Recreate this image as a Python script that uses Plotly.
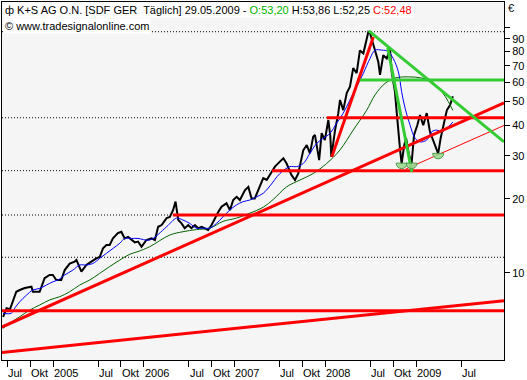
import plotly.graph_objects as go

# ---------------- data ----------------
price_dates = [
    "2004-06-14", "2004-06-28", "2004-07-12", "2004-07-23", "2004-08-06", "2004-08-20",
    "2004-09-09", "2004-10-06", "2004-10-12", "2004-11-08", "2004-11-28", "2004-12-18",
    "2004-12-31", "2005-01-14", "2005-02-03", "2005-02-17", "2005-03-09", "2005-03-29",
    "2005-04-05", "2005-04-25", "2005-05-15", "2005-06-04", "2005-06-24", "2005-07-08",
    "2005-07-21", "2005-08-04", "2005-08-17", "2005-08-30", "2005-09-19", "2005-10-03",
    "2005-10-16", "2005-10-30", "2005-11-12", "2005-11-26", "2005-12-09", "2005-12-23",
    "2006-01-12", "2006-02-01", "2006-02-15", "2006-02-28", "2006-03-14", "2006-04-03",
    "2006-04-16", "2006-04-29", "2006-05-09", "2006-05-20", "2006-06-02", "2006-06-15",
    "2006-06-29", "2006-07-12", "2006-07-26", "2006-08-08", "2006-08-22", "2006-09-04",
    "2006-09-17", "2006-10-01", "2006-10-14", "2006-10-28", "2006-11-10", "2006-11-30",
    "2006-12-14", "2006-12-27", "2007-01-10", "2007-01-23", "2007-02-12", "2007-02-26",
    "2007-03-11", "2007-03-24", "2007-04-14", "2007-04-27", "2007-05-11", "2007-05-24",
    "2007-06-13", "2007-07-03", "2007-07-17", "2007-07-30", "2007-08-19", "2007-09-02",
    "2007-09-15", "2007-10-05", "2007-10-19", "2007-11-01", "2007-11-14", "2007-11-21",
    "2007-12-04", "2007-12-08", "2007-12-18", "2007-12-31", "2008-01-14", "2008-01-22",
    "2008-01-26", "2008-02-10", "2008-02-23", "2008-03-01", "2008-03-14", "2008-03-28",
    "2008-04-10", "2008-04-23", "2008-05-07", "2008-05-20", "2008-06-03", "2008-06-17",
    "2008-06-23", "2008-06-30", "2008-07-13", "2008-07-20", "2008-08-02", "2008-08-09",
    "2008-08-22", "2008-09-05", "2008-09-18", "2008-09-25", "2008-10-08", "2008-10-15",
    "2008-10-22", "2008-10-29", "2008-11-04", "2008-11-14", "2008-11-22", "2008-12-03",
    "2008-12-14", "2008-12-24", "2009-01-06", "2009-01-17", "2009-01-30", "2009-02-13",
    "2009-02-26", "2009-03-12", "2009-03-20", "2009-03-31", "2009-04-10", "2009-04-21",
    "2009-05-05", "2009-05-18", "2009-05-29",
]
price_close = [
    6.6, 7.16, 7.1, 7.61, 8.36, 8.5,
    8.66, 8.77, 8.36, 8.36, 9.49, 9.79,
    9.79, 9.34, 9.34, 10.25, 10.9, 11.1,
    11.27, 10.1, 10.75, 11.1, 11.45, 11.6,
    12.58, 12.97, 12.97, 13.8, 14.5, 14.7,
    13.8, 14.0, 13.6, 13.3, 13.4, 12.77,
    13.6, 13.8, 13.6, 15.4, 15.65, 16.7,
    16.9, 18.0, 19.5, 16.4, 15.9, 15.2,
    15.65, 15.2, 15.65, 15.2, 15.4, 15.2,
    14.94, 15.65, 16.7, 17.7, 18.6, 19.2,
    18.0, 19.8, 20.4, 19.8, 21.7, 22.4,
    20.1, 20.1, 22.6, 24.3, 23.9, 25.0,
    27.1, 28.4, 29.3, 27.9, 25.0, 23.9,
    25.4, 31.6, 33.2, 30.7, 35.9, 36.5,
    31.2, 28.8, 37.1, 34.8, 42.0, 36.0,
    29.7, 38.2, 44.8, 50.7, 46.1, 54.1,
    57.4, 68.4, 65.2, 80.8, 78.6, 89.2,
    96.0, 94.9, 86.0, 82.0, 72.6, 64.2,
    77.2, 74.9, 82.0, 66.0, 54.8, 45.3,
    36.5, 31.5, 27.9, 33.0, 35.4, 30.5,
    27.9, 36.5, 40.0, 44.0, 40.0, 44.8,
    37.6, 34.2, 33.0, 30.6, 35.4, 40.0,
    46.1, 48.3, 52.48,
]

blue_dates = [
    "2004-06-14", "2004-07-17", "2004-07-30", "2004-08-20", "2004-09-16", "2004-10-12",
    "2004-11-08", "2004-12-05", "2005-01-01", "2005-01-21", "2005-02-17", "2005-03-22",
    "2005-04-18", "2005-05-15", "2005-06-10", "2005-07-08", "2005-08-04", "2005-08-31",
    "2005-09-27", "2005-10-17", "2005-11-13", "2005-12-09", "2006-01-25", "2006-04-03",
    "2006-05-13", "2006-06-08", "2006-07-05", "2006-08-01", "2006-08-28", "2006-09-24",
    "2006-10-21", "2006-11-16", "2006-12-13", "2007-01-09", "2007-02-05", "2007-03-04",
    "2007-03-31", "2007-04-27", "2007-05-24", "2007-07-03", "2007-08-12", "2007-09-08",
    "2007-10-05", "2007-11-01", "2007-11-28", "2007-12-25", "2008-01-21", "2008-02-16",
    "2008-03-14", "2008-04-10", "2008-05-07", "2008-06-03", "2008-06-30", "2008-07-20",
    "2008-08-16", "2008-09-11", "2008-10-01", "2008-10-22", "2008-11-04", "2008-11-18",
    "2008-12-08", "2008-12-28", "2009-01-17", "2009-02-13", "2009-03-05", "2009-03-25",
    "2009-04-15", "2009-05-05", "2009-05-29",
]
blue_values = [
    6.83, 6.83, 7.15, 7.61, 8.1, 8.5,
    8.63, 8.9, 9.19, 9.34, 9.79, 10.25,
    10.75, 10.75, 10.9, 11.45, 12.0, 12.58,
    13.2, 13.8, 13.8, 13.8, 13.6, 15.4,
    16.7, 16.4, 15.9, 15.2, 15.2, 15.2,
    15.9, 16.9, 18.0, 18.9, 19.5, 19.8,
    20.4, 21.1, 22.6, 25.4, 27.1, 27.1,
    27.9, 30.7, 33.7, 35.4, 37.1, 40.7,
    44.8, 50.7, 57.4, 65.2, 75.0, 81.0,
    81.0, 80.0, 74.9, 66.0, 54.8, 46.9,
    40.0, 35.4, 34.2, 34.8, 37.6, 38.2,
    37.6, 38.8, 41.2,
]

green_dates = [
    "2004-06-14", "2004-07-10", "2004-08-20", "2004-09-29", "2004-11-08", "2004-12-18",
    "2005-01-28", "2005-03-09", "2005-04-18", "2005-05-29", "2005-07-08", "2005-08-17",
    "2005-09-27", "2005-11-06", "2005-12-09", "2006-01-25", "2006-04-16", "2006-06-08",
    "2006-08-01", "2006-09-24", "2006-11-16", "2007-01-09", "2007-03-04", "2007-04-27",
    "2007-06-06", "2007-07-30", "2007-09-22", "2007-11-14", "2008-01-07", "2008-03-01",
    "2008-04-23", "2008-06-16", "2008-07-20", "2008-08-29", "2008-10-08", "2008-12-01",
    "2009-01-24", "2009-03-05", "2009-04-15", "2009-05-11", "2009-05-29",
]
green_values = [
    5.93, 6.22, 6.61, 7.04, 7.38, 7.74,
    7.98, 8.36, 8.9, 9.34, 9.94, 10.6,
    11.27, 11.9, 12.2, 12.77, 14.25, 14.7,
    15.0, 15.2, 16.2, 16.7, 17.5, 18.5,
    19.9, 22.4, 23.9, 25.4, 27.9, 31.7,
    38.2, 46.0, 53.2, 59.2, 62.3, 63.0,
    62.3, 60.3, 54.8, 49.9, 46.0,
]

# horizontal levels: value, start date of the solid part
red_levels = [42.9, 26.1, 17.2]
red_level_starts = ["2008-01-08", "2007-06-01", "2006-04-28"]
red_full_level = 7.0
green_level = 61.2
green_level_start = "2008-05-08"
dotted_full_levels = [96.3, 11.56]

# trend lines: (date0, value0, date1, value1)
red_thick_lines = [
    ("2004-06-09", 6.0, "2009-12-21", 49.3),
    ("2004-06-09", 4.72, "2009-12-21", 7.69),
    ("2008-01-28", 29.7, "2008-07-13", 91.6),
]
red_thin_lines = [("2008-11-21", 26.5, "2009-12-21", 39.9)]
green_lines = [
    ("2008-06-25", 97.0, "2009-12-21", 34.2),
    ("2008-09-09", 82.6, "2008-12-15", 25.8),
]

# marked lows (green bowls)
low_dates = ["2008-11-04", "2008-12-14", "2009-03-31"]
low_values = [28.0, 28.0, 30.7]

# axis ticks
x_tick_dates = ["2004-07-01", "2004-10-01", "2005-01-01", "2005-07-01", "2005-10-01",
                "2006-01-01", "2006-07-01", "2006-10-01", "2007-01-01", "2007-07-01",
                "2007-10-01", "2008-01-01", "2008-07-01", "2008-10-01", "2009-01-01",
                "2009-07-01"]
x_tick_labels = ["Jul", "Okt", "2005", "Jul", "Okt", "2006", "Jul", "Okt", "2007",
                 "Jul", "Okt", "2008", "Jul", "Okt", "2009", "Jul"]
y_tick_vals = [10, 20, 30, 40, 50, 60, 70, 80, 90, 100]
y_tick_text = ["10", "20", "30", "40", "50", "60", "70", "80", "90", ""]

X_START = "2004-06-09 12:00"
X_END = "2009-12-21"

FONT = "Liberation Sans, Arial, sans-serif"
RED = "#ff0000"
GREEN = "#33cc33"

fig = go.Figure()

# dotted reference lines
for v in dotted_full_levels:
    fig.add_trace(go.Scatter(x=[X_START, X_END], y=[v, v], mode="lines",
                             line=dict(color="black", width=1, dash="1px,2px"),
                             hoverinfo="skip"))
for v, s in zip(red_levels, red_level_starts):
    fig.add_trace(go.Scatter(x=[X_START, s], y=[v, v], mode="lines",
                             line=dict(color="black", width=1, dash="1px,2px"),
                             hoverinfo="skip"))

# price
fig.add_trace(go.Scatter(x=price_dates, y=price_close, mode="lines",
                         line=dict(color="black", width=2)))
# moving averages
fig.add_trace(go.Scatter(x=green_dates, y=green_values, mode="lines",
                         line=dict(color="#006400", width=1, shape="spline")))
fig.add_trace(go.Scatter(x=blue_dates, y=blue_values, mode="lines",
                         line=dict(color="#0000ff", width=1, shape="spline")))

# horizontal levels
for v, s in zip(red_levels, red_level_starts):
    fig.add_trace(go.Scatter(x=[s, X_END], y=[v, v], mode="lines",
                             line=dict(color=RED, width=3)))
fig.add_trace(go.Scatter(x=[X_START, X_END], y=[red_full_level] * 2, mode="lines",
                         line=dict(color=RED, width=3)))
fig.add_trace(go.Scatter(x=[green_level_start, X_END], y=[green_level] * 2, mode="lines",
                         line=dict(color=GREEN, width=3)))

# trend lines
for d0, v0, d1, v1 in red_thick_lines:
    fig.add_trace(go.Scatter(x=[d0, d1], y=[v0, v1], mode="lines",
                             line=dict(color=RED, width=3)))
for d0, v0, d1, v1 in red_thin_lines:
    fig.add_trace(go.Scatter(x=[d0, d1], y=[v0, v1], mode="lines",
                             line=dict(color=RED, width=1)))
for d0, v0, d1, v1 in green_lines:
    fig.add_trace(go.Scatter(x=[d0, d1], y=[v0, v1], mode="lines",
                             line=dict(color=GREEN, width=3)))

# green bowls under the lows (lower half circles, pixel-sized)
r = 5.5
k = 0.5523 * r
bowl = (f"M {-r},0 C {-r},{-k} {-k},{-r} 0,{-r} "
        f"C {k},{-r} {r},{-k} {r},0 Z")
shapes = []
for d, v in zip(low_dates, low_values):
    shapes.append(dict(type="path", xref="x", yref="y", xsizemode="pixel",
                       ysizemode="pixel", xanchor=d, yanchor=v, path=bowl,
                       fillcolor="rgba(150,215,140,0.85)",
                       line=dict(color="#4f9a4f", width=1)))

annotations = []
# header
annotations.append(dict(
    xref="paper", yref="paper", x=0.0, y=0.978, xanchor="left", yanchor="middle",
    text=("ф K+S AG O.N. [SDF GER&nbsp; Täglich] 29.05.2009 - "
          "<span style='color:#00b400'>O:53,20</span> H:53,86 L:52,25 "
          "<span style='color:#ff0000'>C:52,48</span>"),
    showarrow=False, bgcolor="white", font=dict(family=FONT, size=11, color="black"),
    borderpad=1, xshift=1))
annotations.append(dict(
    xref="paper", yref="paper", x=0.0, y=0.934, xanchor="left", yanchor="middle",
    text="© www.tradesignalonline.com", showarrow=False, bgcolor="white",
    font=dict(family=FONT, size=11, color="black"), borderpad=1, xshift=1))
# currency
annotations.append(dict(
    xref="paper", yref="paper", x=1.004, y=0.983, xanchor="left", yanchor="middle",
    text="€", showarrow=False, font=dict(family=FONT, size=11, color="black")))
# x tick labels (left aligned at the tick)
for d, t in zip(x_tick_dates, x_tick_labels):
    annotations.append(dict(
        xref="x", yref="paper", x=d, y=-0.035, xanchor="left", yanchor="middle",
        text=t, showarrow=False, font=dict(family=FONT, size=11, color="black"),
        xshift=0, borderpad=0))

fig.update_layout(
    width=527, height=380,
    margin=dict(l=2, r=23, t=2, b=20),
    paper_bgcolor="white", plot_bgcolor="#f5f5f5",
    showlegend=False,
    shapes=shapes, annotations=annotations,
    font=dict(family=FONT, size=11, color="black"),
    xaxis=dict(type="date", range=[X_START, X_END], showgrid=False, zeroline=False,
               showline=True, linecolor="black", linewidth=1, mirror=True,
               tickmode="array", tickvals=x_tick_dates, showticklabels=False,
               ticks="outside", ticklen=6, tickcolor="black"),
    yaxis=dict(type="log", range=[0.6437, 2.1049], side="right", showgrid=False,
               zeroline=False, showline=True, linecolor="black", linewidth=1,
               mirror=True, tickmode="array", tickvals=y_tick_vals,
               ticktext=y_tick_text, ticks="outside", ticklen=5, tickcolor="black",
               tickfont=dict(family=FONT, size=11, color="black")),
)

fig.write_html("out.html", config={"displayModeBar": False},
               post_script="document.body.style.margin='0px';")
